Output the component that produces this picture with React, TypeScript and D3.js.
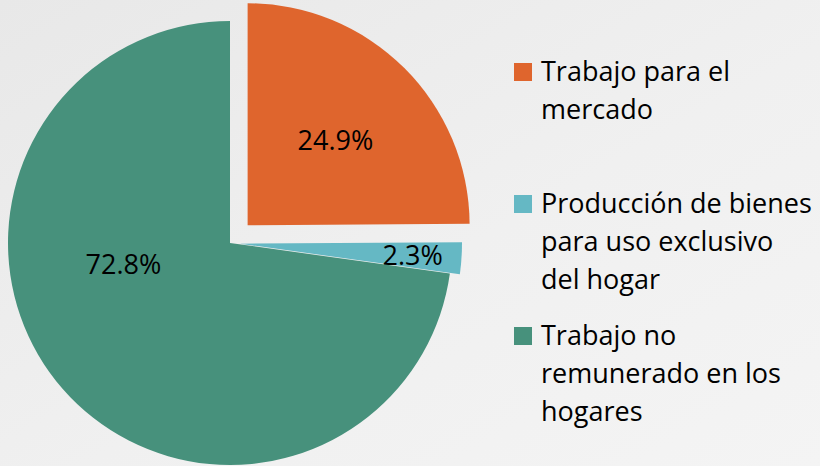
import React, { useEffect, useRef } from 'react';
import * as d3 from 'd3';

// datos del gráfico
const categories = [
  'Trabajo para el mercado',
  'Producción de bienes para uso exclusivo del hogar',
  'Trabajo no remunerado en los hogares',
];
const values = [24.9, 2.3, 72.8];
const legendLines = [
  ['Trabajo para el', 'mercado'],
  ['Producción de bienes', 'para uso exclusivo', 'del hogar'],
  ['Trabajo no', 'remunerado en los', 'hogares'],
];
const colors = ['#DF652D', '#65B8C4', '#47917C'];

// layout (explosión y posición de las etiquetas como en el original)
const explode = [25, 10, 0];
const labelPos = [
  { angle: 46, frac: 0.55 },
  { angle: 93.9, frac: 0.78 },
  { angle: 258.4, frac: 0.49 },
];

const W = 820;
const H = 466;
const FONT = '"Open Sans", sans-serif';

const App = () => {
  const svgRef = useRef<SVGSVGElement>(null);

  useEffect(() => {
    const svg = d3.select(svgRef.current);
    svg.selectAll('*').remove();

    const cx = 230;
    const cy = 243;
    const r = 222;

    // fondo gris claro
    const defs = svg.append('defs');
    const grad = defs
      .append('linearGradient')
      .attr('id', 'bg')
      .attr('x1', '0%')
      .attr('y1', '0%')
      .attr('x2', '100%')
      .attr('y2', '100%');
    grad.append('stop').attr('offset', '0%').attr('stop-color', '#E8E8E8');
    grad.append('stop').attr('offset', '55%').attr('stop-color', '#F0F0F0');
    grad.append('stop').attr('offset', '100%').attr('stop-color', '#F4F4F4');
    svg.append('rect').attr('width', W).attr('height', H).attr('fill', 'url(#bg)');

    const pie = d3
      .pie<number>()
      .sort(null)
      .value(d => d);
    const arcs = pie(values);
    const arc = d3.arc<d3.PieArcDatum<number>>().innerRadius(0).outerRadius(r);

    const g = svg.append('g').attr('transform', `translate(${cx},${cy})`);

    const slices = g
      .selectAll('g.slice')
      .data(arcs)
      .enter()
      .append('g')
      .attr('class', 'slice')
      .attr('transform', (d, i) => {
        const mid = (d.startAngle + d.endAngle) / 2;
        const dx = Math.sin(mid) * explode[i];
        const dy = -Math.cos(mid) * explode[i];
        return `translate(${dx},${dy})`;
      });

    slices
      .append('path')
      .attr('d', arc)
      .attr('fill', (d, i) => colors[i])
      .append('title')
      .text((d, i) => `${categories[i]}: ${values[i]}%`);

    // etiquetas de porcentaje
    slices
      .append('text')
      .attr('x', (d, i) => Math.sin((labelPos[i].angle * Math.PI) / 180) * labelPos[i].frac * r)
      .attr('y', (d, i) => -Math.cos((labelPos[i].angle * Math.PI) / 180) * labelPos[i].frac * r)
      .attr('dy', '0.35em')
      .attr('text-anchor', 'middle')
      .style('font-family', FONT)
      .style('font-size', '27px')
      .style('fill', '#000')
      .text((d, i) => `${values[i].toFixed(1)}%`);

    // leyenda
    const legend = svg
      .selectAll('g.legend')
      .data(legendLines)
      .enter()
      .append('g')
      .attr('class', 'legend')
      .attr('transform', (d, i) => `translate(514,${81 + i * 132})`);

    legend
      .append('rect')
      .attr('x', 0)
      .attr('y', -18)
      .attr('width', 18)
      .attr('height', 18)
      .attr('fill', (d, i) => colors[i]);

    legend
      .append('text')
      .attr('x', 27)
      .style('font-family', FONT)
      .style('font-size', '27px')
      .style('fill', '#000')
      .selectAll('tspan')
      .data(d => d)
      .enter()
      .append('tspan')
      .attr('x', 27)
      .attr('y', (d, i) => i * 38)
      .text(d => d);

    return () => {
      svg.selectAll('*').remove();
    };
  }, []);

  return (
    <svg
      ref={svgRef}
      width={W}
      height={H}
      style={{ position: 'absolute', left: 0, top: 0, display: 'block' }}
    ></svg>
  );
};

export default App;
